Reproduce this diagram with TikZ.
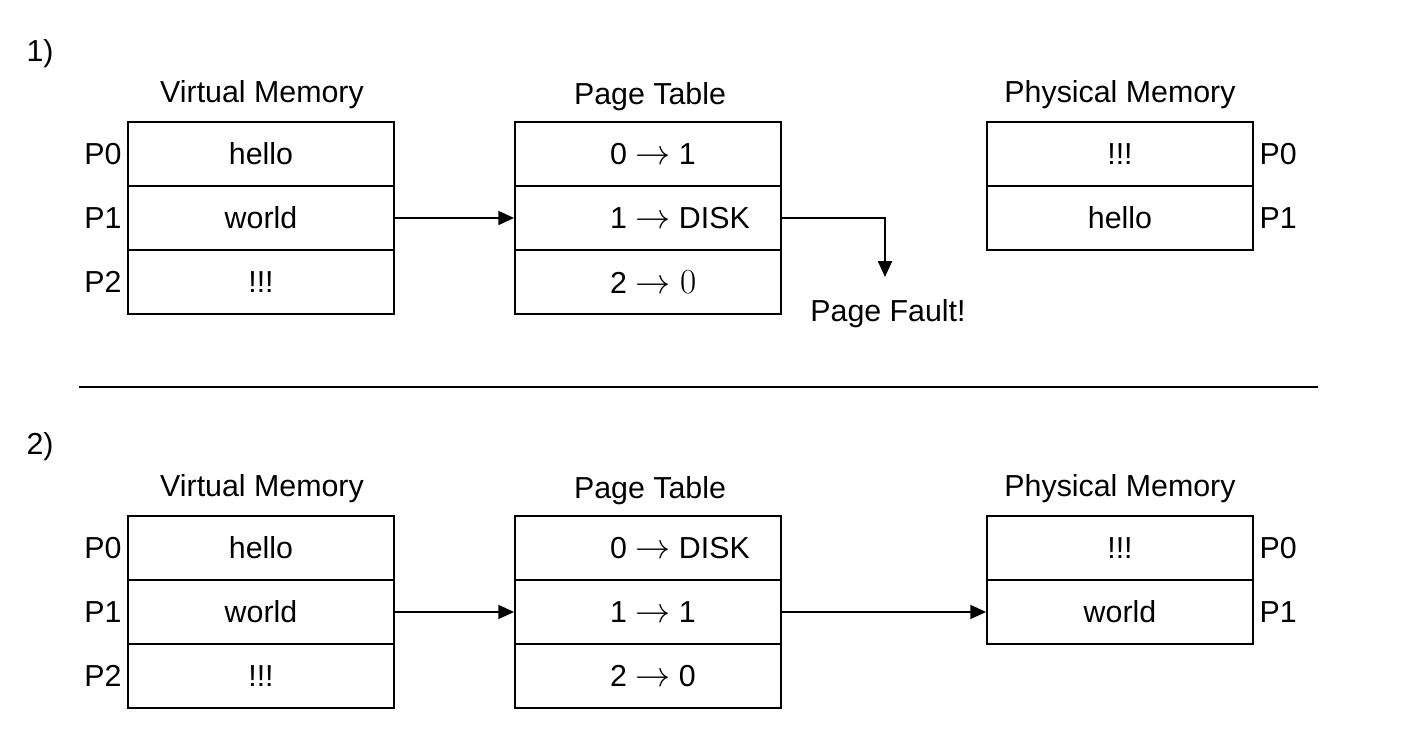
\RequirePackage{fix-cm}
\documentclass[tikz,border=0pt]{standalone}
\usepackage{fontspec}
\setmainfont{Liberation Sans}
\usetikzlibrary{arrows.meta}
\newcommand{\entry}[1]{\makebox[1.52cm][l]{#1}}
\newcommand{\maps}[1]{{\fontsize{20}{24}\selectfont$#1$}}
\begin{document}
\begin{tikzpicture}[x=0.02cm, y=-0.02cm,
    every node/.style={font=\fontsize{17.28}{20}\selectfont, inner sep=3pt},
    cell/.style={rectangle, draw, line width=1.1pt, minimum width=5.32cm, minimum height=1.28cm, inner sep=0pt},
    link/.style={line width=1pt, -{Triangle[length=9pt,width=8pt]}}]
   \useasboundingbox (0,0) rectangle (1404,749);

   \node (N1) at (40,54) {1)};
   \node (VT1) at (262,95) {Virtual Memory};
   \node (TT1) at (650,97) {Page Table};
   \node (MT1) at (1120,95) {Physical Memory};

   \node[cell] (V1a) at (261,154) {hello};
   \node[cell] (V1b) at (261,218) {world};
   \node[cell] (V1c) at (261,282) {!!!};
   \node[anchor=east] (L1a) at (V1a.west) {P0};
   \node[anchor=east] (L1b) at (V1b.west) {P1};
   \node[anchor=east] (L1c) at (V1c.west) {P2};

   \node[cell] (T1a) at (648,154) {\entry{0 \maps{\rightarrow} 1}};
   \node[cell] (T1b) at (648,218) {\entry{1 \maps{\rightarrow} DISK}};
   \node[cell] (T1c) at (648,282) {\entry{2 \maps{\rightarrow 0}}};

   \node[cell] (M1a) at (1120,154) {!!!};
   \node[cell] (M1b) at (1120,218) {hello};
   \node[anchor=west] (R1a) at (M1a.east) {P0};
   \node[anchor=west] (R1b) at (M1b.east) {P1};

   \coordinate (F1) at (885,277);
   \node (PF) at (888,314) {Page Fault!};

   \draw[link] (V1b) -- (T1b);
   \draw[link] (T1b.east) -| (F1);

   \coordinate (S1) at (79,387);
   \coordinate (S2) at (1318,387);
   \draw[line width=1pt] (S1) -- (S2);

   \node (N2) at (40,447) {2)};
   \node (VT2) at (262,489) {Virtual Memory};
   \node (TT2) at (650,491) {Page Table};
   \node (MT2) at (1120,489) {Physical Memory};

   \node[cell] (V2a) at (261,548) {hello};
   \node[cell] (V2b) at (261,612) {world};
   \node[cell] (V2c) at (261,676) {!!!};
   \node[anchor=east] (L2a) at (V2a.west) {P0};
   \node[anchor=east] (L2b) at (V2b.west) {P1};
   \node[anchor=east] (L2c) at (V2c.west) {P2};

   \node[cell] (T2a) at (648,548) {\entry{0 \maps{\rightarrow} DISK}};
   \node[cell] (T2b) at (648,612) {\entry{1 \maps{\rightarrow} 1}};
   \node[cell] (T2c) at (648,676) {\entry{2 \maps{\rightarrow} 0}};

   \node[cell] (M2a) at (1120,548) {!!!};
   \node[cell] (M2b) at (1120,612) {world};
   \node[anchor=west] (R2a) at (M2a.east) {P0};
   \node[anchor=west] (R2b) at (M2b.east) {P1};

   \draw[link] (V2b) -- (T2b);
   \draw[link] (T2b) -- (M2b);
\end{tikzpicture}
\end{document}
